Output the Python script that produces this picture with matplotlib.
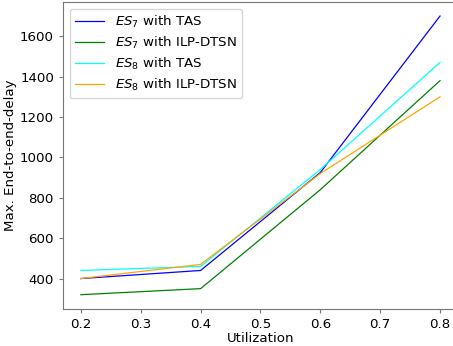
import matplotlib
matplotlib.use("Agg")
import matplotlib.pyplot as plt

utilization = [0.2, 0.4, 0.6, 0.8]
es7_tas = [400, 440, 925, 1700]
es7_ilp = [320, 350, 840, 1380]
es8_tas = [440, 460, 940, 1470]
es8_ilp = [400, 470, 920, 1300]

FS = 9.6
fig = plt.figure(figsize=(4.53, 3.46), dpi=100)
ax = fig.add_axes([0.139, 0.108, 0.872, 0.886])
ax.plot(utilization, es7_tas, color="blue", lw=0.9, label=r"$ES_7$ with TAS")
ax.plot(utilization, es7_ilp, color="green", lw=0.9, label=r"$ES_7$ with ILP-DTSN")
ax.plot(utilization, es8_tas, color="cyan", lw=0.9, label=r"$ES_8$ with TAS")
ax.plot(utilization, es8_ilp, color="orange", lw=0.9, label=r"$ES_8$ with ILP-DTSN")

ax.set_xticks([0.2, 0.3, 0.4, 0.5, 0.6, 0.7, 0.8])
ax.set_yticks([400, 600, 800, 1000, 1200, 1400, 1600])
ax.tick_params(labelsize=FS, color="#777777", length=3)
for s in ax.spines.values():
    s.set_color("#777777")
ax.set_xlabel("Utilization", fontsize=FS, labelpad=1)
ax.set_ylabel("Max. End-to-end-delay", fontsize=FS, labelpad=2)
ax.legend(fontsize=FS, loc="upper left", handlelength=2.2, labelspacing=0.36)
fig.savefig("out.png", dpi=100)
